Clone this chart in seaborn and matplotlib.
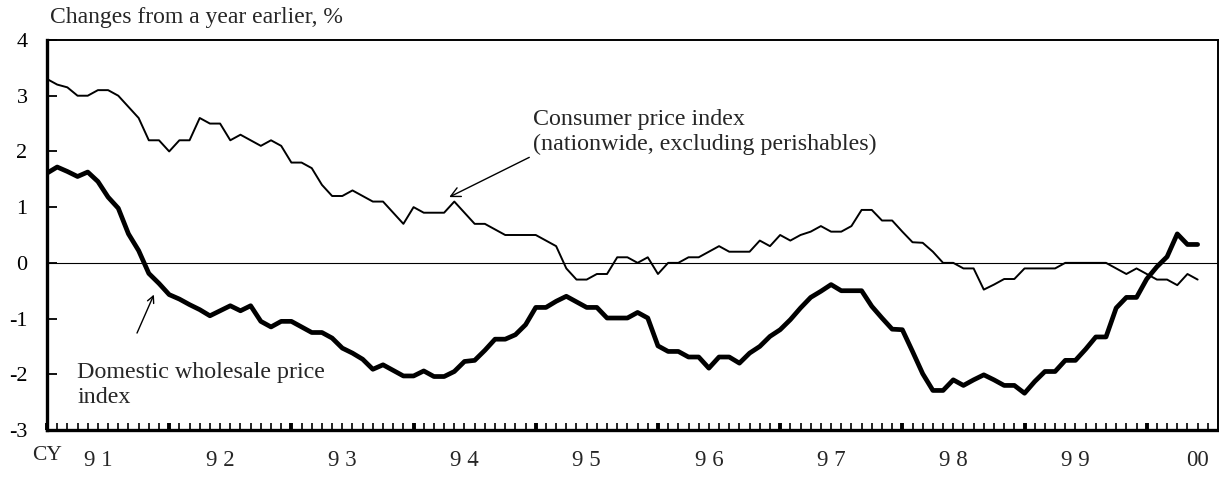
#!/usr/bin/env python3
"""
Year-on-year changes of consumer and domestic wholesale prices, CY1991-2000.
"""

import numpy as np
import pandas as pd
import matplotlib
matplotlib.use("Agg")
import matplotlib.pyplot as plt
import matplotlib.transforms as mtransforms
import seaborn as sns

# monthly data, Jan 1991 onwards (% change from a year earlier)
cpi = [3.3, 3.2, 3.15, 3.0, 3.0, 3.1, 3.1, 3.0, 2.8, 2.6,
       2.2, 2.2, 2.0, 2.2, 2.2, 2.6, 2.5, 2.5, 2.2, 2.3,
       2.2, 2.1, 2.2, 2.1, 1.8, 1.8, 1.7, 1.4, 1.2, 1.2,
       1.3, 1.2, 1.1, 1.1, 0.9, 0.7, 1.0, 0.9, 0.9, 0.9,
       1.1, 0.9, 0.7, 0.7, 0.6, 0.5, 0.5, 0.5, 0.5, 0.4,
       0.3, -0.1, -0.3, -0.3, -0.2, -0.2, 0.1, 0.1, 0.0, 0.1,
       -0.2, 0.0, 0.0, 0.1, 0.1, 0.2, 0.3, 0.2, 0.2, 0.2,
       0.4, 0.3, 0.5, 0.4, 0.5, 0.56, 0.66, 0.56, 0.56, 0.66,
       0.95, 0.95, 0.76, 0.76, 0.56, 0.37, 0.36, 0.2, 0.0, 0.0,
       -0.1, -0.1, -0.48, -0.39, -0.29, -0.29, -0.1, -0.1, -0.1, -0.1,
       0.0, 0.0, 0.0, 0.0, 0.0, -0.1, -0.2, -0.1, -0.2, -0.3,
       -0.3, -0.4, -0.2, -0.3]

wpi = [1.61, 1.72, 1.64, 1.55, 1.63, 1.46, 1.18, 0.98, 0.52, 0.22,
       -0.19, -0.37, -0.57, -0.65, -0.75, -0.84, -0.95, -0.86, -0.77, -0.86,
       -0.77, -1.05, -1.15, -1.05, -1.05, -1.15, -1.25, -1.25, -1.35, -1.53,
       -1.62, -1.73, -1.91, -1.83, -1.93, -2.03, -2.03, -1.94, -2.04, -2.04,
       -1.95, -1.77, -1.75, -1.57, -1.37, -1.37, -1.29, -1.11, -0.80, -0.80,
       -0.69, -0.60, -0.70, -0.80, -0.80, -0.99, -0.99, -0.99, -0.89, -0.99,
       -1.49, -1.59, -1.59, -1.69, -1.69, -1.89, -1.69, -1.69, -1.80, -1.62,
       -1.50, -1.32, -1.20, -1.02, -0.81, -0.62, -0.51, -0.39, -0.50, -0.50,
       -0.50, -0.78, -0.99, -1.19, -1.20, -1.59, -1.99, -2.29, -2.29, -2.10,
       -2.20, -2.10, -2.01, -2.10, -2.20, -2.20, -2.34, -2.13, -1.95, -1.95,
       -1.75, -1.75, -1.55, -1.33, -1.33, -0.81, -0.62, -0.62, -0.29, -0.07,
       0.11, 0.52, 0.33, 0.33]

year_labels = ["9 1", "9 2", "9 3", "9 4", "9 5", "9 6", "9 7", "9 8", "9 9", "00"]
y_ticks = [-3, -2, -1, 0, 1, 2, 3, 4]

df = pd.DataFrame({"month": np.arange(len(cpi)), "cpi": cpi, "wpi": wpi})

sns.set_theme(style="white")
plt.rcParams["font.family"] = ["Liberation Serif", "DejaVu Serif"]

fig = plt.figure(figsize=(12.19, 4.79), dpi=100)
ax = fig.add_axes([47 / 1219, 49 / 479, 1171 / 1219, 390 / 479])

ax.axhline(0, color="black", linewidth=0.8, zorder=1)
sns.lineplot(x="month", y="cpi", data=df, ax=ax, color="black", linewidth=1.4)
sns.lineplot(x="month", y="wpi", data=df, ax=ax, color="black", linewidth=3.4)

ax.set_xlim(0, 115)
ax.set_ylim(-3, 4)
ax.set_xlabel("")
ax.set_ylabel("")

# spines
for side in ["left", "bottom"]:
    ax.spines[side].set_linewidth(2.4)
for side in ["top", "right"]:
    ax.spines[side].set_linewidth(1.4)
for s in ax.spines.values():
    s.set_color("black")

# y ticks
ax.set_yticks(y_ticks)
ax.set_yticklabels([str(v) for v in y_ticks])
ax.tick_params(axis="y", direction="in", length=7, width=1.3, pad=14,
               labelsize=16, colors="black", left=True)

# x ticks: year boundaries bold, months thin
n_years = len(year_labels)
ax.set_xticks(np.arange(0, 12 * n_years, 12))
ax.set_xticks(np.arange(0, len(cpi) + 1), minor=True)
ax.set_xticklabels([])
ax.tick_params(axis="x", which="major", direction="in", length=5, width=2.8,
               bottom=True, colors="black")
ax.tick_params(axis="x", which="minor", direction="in", length=5, width=1.2,
               bottom=True, colors="black")

trans = mtransforms.blended_transform_factory(ax.transData, ax.transAxes)
for i, lab in enumerate(year_labels):
    ax.text(5 + 12 * i, -0.079, lab, transform=trans, ha="center", va="center",
            fontsize=16.5)
ax.text(0, -0.066, "CY", transform=trans, ha="center", va="center", fontsize=15.5)

fig.text(50 / 1219, 1 - 18 / 479, "Changes from a year earlier, %",
         ha="left", va="center", fontsize=17)

# annotations
ax.annotate("Consumer price index\n(nationwide, excluding perishables)",
            xy=(39.5, 1.18), xytext=(47.7, 2.35), ha="left", va="center",
            fontsize=17.3, linespacing=1.25,
            arrowprops=dict(arrowstyle="->", color="black", lw=1.0,
                            shrinkA=0, shrinkB=0, relpos=(-0.01, -0.05)))
ax.annotate("", xy=(10.5, -0.57), xytext=(8.84, -1.26),
            arrowprops=dict(arrowstyle="->", color="black", lw=1.0,
                            shrinkA=0, shrinkB=0))
ax.text(2.95, -2.19, "Domestic wholesale price\nindex", ha="left", va="center",
        fontsize=17.3, linespacing=1.25)

fig.savefig("out.png", dpi=100)
